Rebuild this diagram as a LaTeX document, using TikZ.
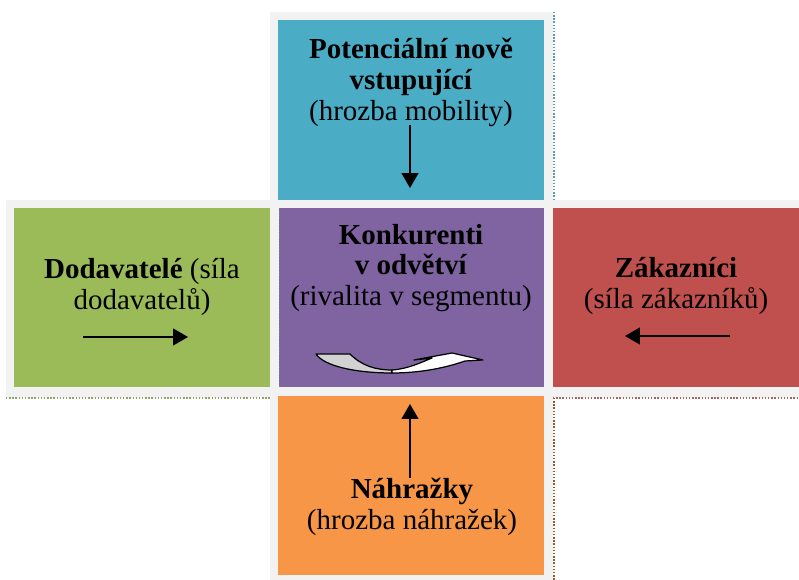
\documentclass[tikz,border=0pt]{standalone}
\usepackage{fontspec}
\setmainfont{Liberation Serif}
\usetikzlibrary{arrows.meta}
\definecolor{framegray}{HTML}{F2F2F2}
\definecolor{entrcol}{HTML}{4BACC6}
\definecolor{supcol}{HTML}{9BBB59}
\definecolor{rivcol}{HTML}{8064A2}
\definecolor{custcol}{HTML}{C0504D}
\definecolor{subcol}{HTML}{F79646}
\begin{document}
\begin{tikzpicture}[x=0.02cm, y=-0.02cm,
    lbl/.style={align=center, inner sep=0pt, font=\fontsize{16.5}{17.6}\selectfont},
    shad/.style={densely dotted, line width=0.8pt},
    ar/.style={line width=0.85pt, -{Triangle[length=8.5pt, width=9.6pt]}}]
    \useasboundingbox (0,0) rectangle (799,580);
    \fill [framegray] (270,12) rectangle (553,580);
    \fill [framegray] (6,200) rectangle (799,398);
    \fill [entrcol] (278,20) rectangle (544,200);
    \fill [supcol] (14,208) rectangle (270,387);
    \fill [rivcol] (279,208) rectangle (544,387);
    \fill [custcol] (553,208) rectangle (799,387);
    \fill [subcol] (278,396) rectangle (544,575);
    \draw [shad, entrcol!60!gray] (554,12) -- (554,200);
    \draw [shad, supcol!60!gray] (6,398) -- (270,398);
    \draw [shad, custcol!60!gray] (553,398) -- (799,398);
    \draw [shad, subcol!60!black] (554,398) -- (554,580);
    \draw [shad, gray] (279.5,208) -- (279.5,387);
    \node [lbl] (entr) at (411,82) {\textbf{Potenciální nově}\\ \textbf{vstupující}\\ (hrozba mobility)};
    \node [lbl] (sup) at (142,287) {\textbf{Dodavatelé} (síla\\ dodavatelů)};
    \node [lbl] (riv) at (411,268) {\textbf{Konkurenti}\\ \textbf{v odvětví}\\ (rivalita v segmentu)};
    \node [lbl] (cust) at (676,286) {\textbf{Zákazníci}\\ (síla zákazníků)};
    \node [lbl] (sub) at (412,507) {\textbf{Náhražky}\\ (hrozba náhražek)};
    \coordinate (entr-a) at (410,125);
    \coordinate (entr-b) at (410,188);
    \coordinate (sup-a) at (83,337);
    \coordinate (sup-b) at (188,337);
    \coordinate (cust-a) at (730,336);
    \coordinate (cust-b) at (625,336);
    \coordinate (sub-a) at (410,478);
    \coordinate (sub-b) at (410,404);
    \draw [ar] (entr-a) -- (entr-b);
    \draw [ar] (sup-a) -- (sup-b);
    \draw [ar] (cust-a) -- (cust-b);
    \draw [ar] (sub-a) -- (sub-b);
    \filldraw [fill=gray!35, line width=0.7pt, line join=round] (316,354) -- (350,354)
        .. controls (362,366) and (376,370) .. (392,370)
        -- (392,373) .. controls (355,373) and (324,366) .. (316,354) -- cycle;
    \filldraw [fill=white, line width=0.7pt, line join=round] (392,370)
        .. controls (408,369) and (422,362) .. (432,358) -- (414,360) -- (452,353)
        -- (483,360) -- (465,361) .. controls (445,368) and (420,373) .. (392,373) -- cycle;
\end{tikzpicture}
\end{document}
